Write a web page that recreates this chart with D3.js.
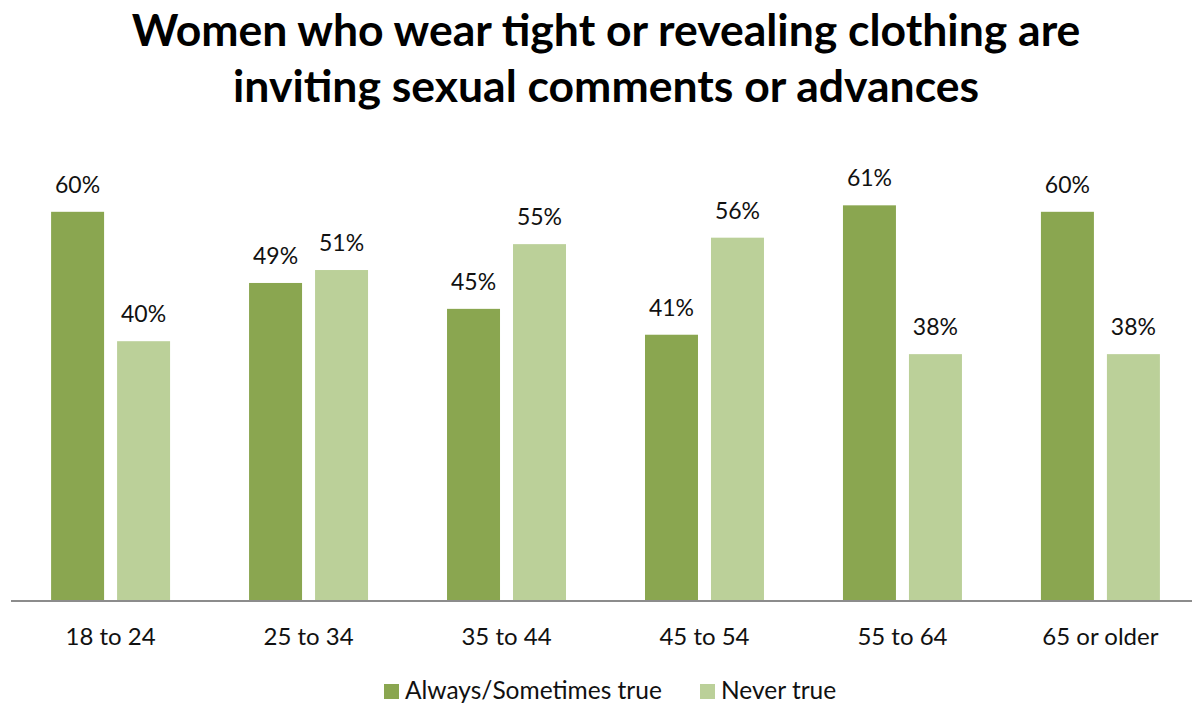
<!DOCTYPE html>
<html>
<head>
<meta charset="utf-8">
<script src="https://cdn.jsdelivr.net/npm/d3@7"></script>
<style>
  html, body { margin: 0; padding: 0; background: #fff; }
  svg { display: block; font-family: Lato, "Open Sans", sans-serif; }
</style>
</head>
<body>
<svg id="chart" width="1192" height="705"></svg>
<script>
// Survey responses by age group (percent)
const titleLines = ["Women who wear tight or revealing clothing are", "inviting sexual comments or advances"];
const ageGroups = ["18 to 24", "25 to 34", "35 to 44", "45 to 54", "55 to 64", "65 or older"];
const seriesNames = ["Always/Sometimes true", "Never true"];
const alwaysSometimes = [60, 49, 45, 41, 61, 60];
const neverTrue = [40, 51, 55, 56, 38, 38];
const seriesColors = ["#8aa650", "#bbd099"];

const rows = ageGroups.map((g, i) => ({ group: g, values: [alwaysSometimes[i], neverTrue[i]] }));

const svg = d3.select("#chart");
const baseY = 600;

// Title
svg.append("g").selectAll("text")
  .data(titleLines)
  .join("text")
  .attr("x", 606)
  .attr("y", (d, i) => 46 + i * 56)
  .attr("text-anchor", "middle")
  .attr("font-size", 44.5)
  .attr("font-weight", 700)
  .attr("fill", "#000")
  .text(d => d);

// Scales
const x0 = d3.scaleBand().domain(ageGroups).range([11.5, 1199.5]).paddingInner(0.399).paddingOuter(0.2);
const x1 = d3.scaleBand().domain([0, 1]).range([0, x0.bandwidth()]).paddingInner(0.197).paddingOuter(0);
const y = d3.scaleLinear().domain([0, 70]).range([baseY, baseY - 70 * 6.47]);

// Bars
const groups = svg.append("g").selectAll("g")
  .data(rows)
  .join("g")
  .attr("transform", d => `translate(${x0(d.group)},0)`);

groups.selectAll("rect")
  .data(d => d.values.map((v, k) => ({ v, k })))
  .join("rect")
  .attr("x", d => x1(d.k))
  .attr("width", x1.bandwidth())
  .attr("y", d => y(d.v))
  .attr("height", d => y(0) - y(d.v))
  .attr("fill", d => seriesColors[d.k]);

// Value labels
groups.selectAll("text")
  .data(d => d.values.map((v, k) => ({ v, k })))
  .join("text")
  .attr("x", d => x1(d.k) + x1.bandwidth() / 2)
  .attr("y", d => y(d.v) - 19)
  .attr("text-anchor", "middle")
  .attr("font-size", 23)
  .attr("fill", "#111")
  .text(d => d.v + "%");

// Category axis
const xAxis = svg.append("g")
  .attr("transform", `translate(0,${baseY + 1})`)
  .call(d3.axisBottom(x0).tickSize(0).tickPadding(27));
xAxis.select(".domain")
  .attr("d", `M11,0H1192`)
  .attr("stroke", "#8c8c8c")
  .attr("stroke-width", 2);
xAxis.selectAll(".tick text")
  .attr("font-family", "Lato, 'Open Sans', sans-serif")
  .attr("font-size", 24)
  .attr("fill", "#111");

// Legend
const legendX = [384, 700];
const legend = svg.append("g").selectAll("g")
  .data(seriesNames)
  .join("g")
  .attr("transform", (d, i) => `translate(${legendX[i]},684)`);
legend.append("rect")
  .attr("width", 15)
  .attr("height", 15)
  .attr("fill", (d, i) => seriesColors[i]);
legend.append("text")
  .attr("x", 21)
  .attr("y", 14.5)
  .attr("font-size", 24.5)
  .attr("fill", "#111")
  .text(d => d);
</script>
</body>
</html>
